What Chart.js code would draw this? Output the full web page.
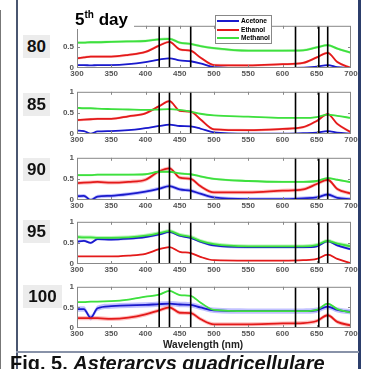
<!DOCTYPE html>
<html>
<head>
<meta charset="utf-8">
<script src="https://cdn.jsdelivr.net/npm/chart.js@4"></script>
<style>
body { margin:0; width:366px; height:369px; position:relative; overflow:hidden; background:#fff; font-family:"Liberation Sans", Arial, sans-serif; }
canvas { position:absolute; left:0; }
.lab { position:absolute; left:23px; height:23px; line-height:23px; background:#ececec; font-weight:bold; font-size:17px; text-align:center; color:#111; }
.row { height:8.5px; line-height:8.5px; font-size:6.6px; font-weight:bold; white-space:nowrap; }
.row span { display:inline-block; width:22px; height:2px; vertical-align:middle; margin:0 2px 0 1px; }
</style>
</head>
<body>
<div style="position:absolute;left:0;top:10px;width:1px;height:359px;background:#777"></div>
<div style="position:absolute;left:16px;top:0;width:2px;height:369px;background:#4a5670"></div>
<div style="position:absolute;left:358px;top:0;width:3px;height:369px;background:#2c3e6b"></div>
<div style="position:absolute;left:16px;top:351px;width:343px;height:2px;background:#8892a8"></div>

<div id="charts"></div>

<div style="position:absolute;left:64px;top:4px;width:70px;height:25px;background:#fff"></div>
<div style="position:absolute;left:75px;top:5px;font-weight:bold;font-size:17px;line-height:20px">5<sup style="font-size:10px">th</sup> day</div>

<div style="position:absolute;left:215px;top:15px;width:55px;height:26px;border:1px solid #888;background:#fff;padding-top:1px">
  <div class="row"><span style="background:#1a1acc"></span>Acetone</div>
  <div class="row"><span style="background:#e31a1a"></span>Ethanol</div>
  <div class="row"><span style="background:#3ee03e"></span>Methanol</div>
</div>

<div style="position:absolute;left:163px;top:339px;font-weight:bold;font-size:10px;color:#222">Wavelength (nm)</div>
<div style="position:absolute;left:10px;top:353px;font-weight:bold;font-size:20px;line-height:20px;white-space:nowrap;color:#111">Fig. 5. <i>Asterarcys quadricellulare</i></div>

<script>
// wavelength grid (nm)
const wl = [300,310,320,330,350,375,400,420,435,450,466,480,500,550,600,630,650,666,680,700];
// black reference lines (nm)
const markers = [420,435,466,619,653,666];
const panelNames = ['80','85','90','95','100'];

const acetone80  = [.07,.07,.06,.07,.07,.09,.14,.20,.23,.18,.16,.11,.02,.00,.00,.01,.03,.07,.02,.00];
const ethanol80  = [.23,.25,.27,.27,.27,.31,.38,.53,.62,.44,.41,.25,.07,.06,.09,.12,.25,.36,.14,.00];
const methanol80 = [.60,.60,.61,.61,.62,.63,.64,.68,.69,.60,.57,.52,.47,.41,.41,.42,.49,.54,.46,.36];

const acetone85  = [.08,.07,.01,.06,.07,.09,.14,.19,.22,.19,.18,.13,.04,.01,.01,.02,.03,.07,.03,.01];
const ethanol85  = [.33,.34,.35,.36,.36,.42,.49,.66,.78,.55,.53,.35,.11,.09,.12,.16,.31,.47,.24,.04];
const methanol85 = [.62,.61,.61,.60,.59,.58,.57,.58,.59,.57,.53,.48,.44,.41,.38,.38,.40,.46,.43,.38];

const acetone90  = [.09,.10,.00,.08,.10,.14,.20,.27,.33,.25,.22,.15,.06,.02,.02,.04,.06,.13,.05,.02];
const ethanol90  = [.40,.41,.42,.43,.41,.43,.48,.68,.75,.53,.50,.33,.18,.18,.22,.25,.38,.48,.26,.15];
const methanol90 = [.59,.59,.59,.60,.60,.60,.61,.67,.67,.63,.61,.56,.50,.45,.43,.43,.45,.52,.48,.42];

const acetone95  = [.53,.55,.50,.59,.58,.60,.64,.70,.76,.67,.62,.53,.44,.40,.40,.40,.42,.54,.44,.35];
const ethanol95  = [.18,.18,.18,.18,.18,.20,.24,.35,.40,.29,.26,.17,.09,.08,.08,.09,.12,.22,.12,.02];
const methanol95 = [.64,.63,.63,.62,.62,.63,.67,.73,.78,.69,.64,.55,.47,.42,.42,.42,.45,.55,.48,.42];

const acetone100  = [.46,.46,.25,.48,.53,.55,.56,.58,.59,.57,.56,.50,.43,.41,.41,.41,.43,.52,.44,.39];
const ethanol100  = [.24,.24,.24,.24,.22,.25,.33,.43,.50,.37,.36,.22,.09,.09,.11,.12,.17,.31,.15,.06];
const methanol100 = [.63,.63,.64,.64,.65,.69,.76,.81,.90,.80,.78,.62,.44,.41,.41,.41,.44,.59,.46,.37];

// half width of the shaded band, one per panel
const sdAcetone  = [.012,.012,.045,.03,.065];
const sdEthanol  = [.03,.03,.045,.012,.05];
const sdMethanol = [.03,.012,.025,.045,.015];

const acetone  = [acetone80, acetone85, acetone90, acetone95, acetone100];
const ethanol  = [ethanol80, ethanol85, ethanol90, ethanol95, ethanol100];
const methanol = [methanol80, methanol85, methanol90, methanol95, methanol100];

// panel placement: top of plot area and height, in px
const panelTop = [22, 88, 154, 218, 283];
const panelH   = [46, 46, 46, 46, 45];
const labelTop = [35, 93, 158, 220, 285];

const colors = { a:'#1a1acc', e:'#e31a1a', m:'#3ee03e' };
const bands  = { a:'rgba(100,100,255,0.4)', e:'rgba(255,100,100,0.4)', m:'rgba(80,230,80,0.4)' };

const pts = (ys) => wl.map((x, i) => ({ x: x, y: ys[i] }));

const boxPlugin = {
    id: 'box',
    afterDraw(chart) {
        const ctx = chart.ctx, a = chart.chartArea, xs = chart.scales.x, ys = chart.scales.y;
        ctx.save();
        ctx.strokeStyle = '#888';
        ctx.lineWidth = 1;
        ctx.strokeRect(a.left + 0.5, a.top + 0.5, a.width - 1, a.height - 1);
        ctx.beginPath();
        for (let v = 350; v < 700; v += 50) {
            const px = Math.round(xs.getPixelForValue(v)) + 0.5;
            ctx.moveTo(px, a.bottom); ctx.lineTo(px, a.bottom - 3);
            ctx.moveTo(px, a.top); ctx.lineTo(px, a.top + 3);
        }
        const py = Math.round(ys.getPixelForValue(0.5)) + 0.5;
        ctx.moveTo(a.left, py); ctx.lineTo(a.left + 3, py);
        ctx.moveTo(a.right, py); ctx.lineTo(a.right - 3, py);
        ctx.stroke();
        ctx.restore();
    }
};

const line = (data, color) => ({
    data: data, borderColor: color, borderWidth: 1.8, pointRadius: 0,
    fill: false, cubicInterpolationMode: 'monotone'
});

for (let p = 0; p < 5; p++) {
    const cv = document.createElement('canvas');
    const h = 4 + panelH[p] + 12;
    cv.width = 366; cv.height = h;
    cv.style.top = (panelTop[p] - 4) + 'px';
    cv.style.width = '366px'; cv.style.height = h + 'px';
    document.getElementById('charts').appendChild(cv);

    const lab = document.createElement('div');
    lab.className = 'lab';
    lab.textContent = panelNames[p];
    lab.style.top = labelTop[p] + 'px';
    lab.style.width = (panelNames[p].length === 3 ? 39 : 27) + 'px';
    document.body.appendChild(lab);

    const datasets = [];
    markers.forEach((m) => datasets.push({
        data: [{ x: m, y: 0 }, { x: m, y: 1 }], borderColor: '#000', borderWidth: 1.6,
        pointRadius: 0, fill: false
    }));
    datasets.push(line(pts(methanol[p]), colors.m));
    datasets.push(line(pts(ethanol[p]), colors.e));
    datasets.push(line(pts(acetone[p]), colors.a));

    [['m', methanol[p], sdMethanol[p]], ['e', ethanol[p], sdEthanol[p]], ['a', acetone[p], sdAcetone[p]]]
        .forEach(([k, ys, sd]) => {
            datasets.push({
                data: pts(ys.map((v) => v + sd)), borderWidth: 0, pointRadius: 0,
                backgroundColor: bands[k], fill: '+1', cubicInterpolationMode: 'monotone'
            });
            datasets.push({
                data: pts(ys.map((v) => v - sd)), borderWidth: 0, pointRadius: 0,
                fill: false, cubicInterpolationMode: 'monotone'
            });
        });

    new Chart(cv, {
        type: 'line',
        data: { datasets: datasets },
        plugins: [boxPlugin],
        options: {
            responsive: false,
            animation: false,
            devicePixelRatio: 1,
            layout: { padding: { left: 57, right: 15, top: 4, bottom: 0 } },
            plugins: { legend: { display: false }, tooltip: { enabled: false } },
            scales: {
                x: {
                    type: 'linear', min: 300, max: 700,
                    ticks: { stepSize: 50, padding: 1, color: '#555', font: { size: 8, weight: 'bold' }, maxRotation: 0 },
                    grid: { drawOnChartArea: false, drawTicks: false },
                    border: { display: false },
                    afterFit: (s) => { s.height = 12; }
                },
                y: {
                    min: 0, max: 1,
                    ticks: { stepSize: 0.5, padding: 3, color: '#555', font: { size: 8, weight: 'bold' },
                             callback: (v) => v === 0 ? '0' : (v === 0.5 ? '0.5' : (v === 1 ? '1' : '')) },
                    grid: { drawOnChartArea: false, drawTicks: false },
                    border: { display: false },
                    afterFit: (s) => { s.width = 20; }
                }
            }
        }
    });
}
</script>
</body>
</html>
